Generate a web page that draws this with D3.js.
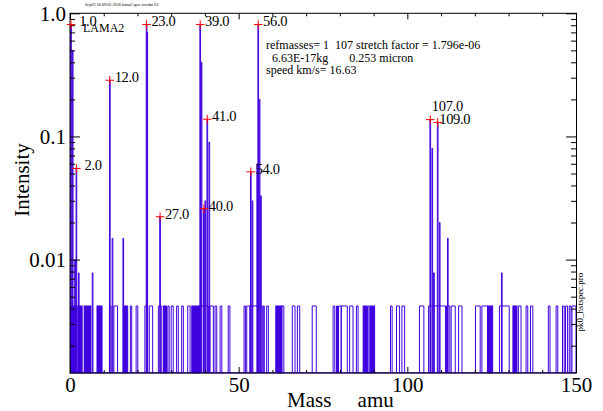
<!DOCTYPE html>
<html>
<head>
<meta charset="utf-8">
<script src="https://cdn.jsdelivr.net/npm/d3@7"></script>
<style>
  body { margin: 0; background: #fff; }
  text { font-family: "Liberation Serif", "Times New Roman", serif; fill: #000; }
</style>
</head>
<body>
<svg id="chart" width="603" height="411"></svg>
<script>
// labelled peaks (red crosses)
var peakMass = [0.3, 1.9, 11.8, 22.7, 26.7, 38.6, 39.7, 40.7, 53.6, 55.8, 106.8, 109.0];
var peakHeight = [0.81, 0.055, 0.286, 0.81, 0.0223, 0.81, 0.0259, 0.138, 0.0516, 0.81, 0.137, 0.13];
var peakLabel = [1, 2, 12, 23, 27, 39, 40, 41, 54, 56, 107, 109];

// unlabelled lines
var spikeMass = [0.8, 1.5, 2.6, 6.7, 12.6, 15.8, 22.9, 39.0, 40.1, 41.3, 54.1, 55.5, 56.2, 56.6, 107.4, 107.9, 109.6, 112.0, 128.0];
var spikeHeight = [0.5, 0.01, 0.0078, 0.0078, 0.0149, 0.0149, 0.7, 0.4, 0.03, 0.09, 0.03, 0.06, 0.2, 0.033, 0.08, 0.0078, 0.02, 0.0149, 0.0078];

// single-count noise level and where the trace sits on it
var noiseLevel = 0.0042;
var noiseBlocks = [[0, 1.8], [2.3, 3.6], [4.2, 6.2], [8.0, 9.5], [15.8, 17.1], [27.7, 28.6], [36.1, 38.5],
  [61.0, 62.8], [86.9, 87.9], [88.9, 90.3], [123.8, 125.3], [131.3, 132.5]];
var noiseSpans = [[11.7, 12.2], [13.0, 14.1], [17.9, 18.3], [19.6, 20.1], [22.2, 23.0], [23.5, 24.5], [26.2, 27.2],
  [29.0, 29.4], [30.0, 30.6], [31.6, 32.1], [33.1, 33.6], [34.9, 35.6], [38.5, 41.0], [41.5, 42.5], [43.0, 43.5],
  [44.5, 45.0], [46.9, 47.4], [51.6, 52.0], [52.4, 53.3], [53.6, 57.0], [57.3, 57.6], [58.3, 58.8], [62.8, 63.4],
  [65.9, 66.7], [67.4, 68.1], [71.8, 73.0], [78.0, 78.5], [79.0, 79.3], [79.6, 80.4], [80.4, 82.2], [82.9, 83.9],
  [84.9, 85.4], [88.2, 88.6], [95.0, 95.5], [96.8, 97.7], [98.4, 99.2], [103.6, 104.9], [106.3, 111.3],
  [111.6, 112.6], [113.0, 114.2], [115.2, 116.2], [120.2, 121.6], [122.1, 123.8], [127.3, 130.2], [132.9, 133.7],
  [135.2, 135.7], [136.5, 137.2], [141.8, 142.3], [144.1, 144.6], [146.0, 146.5], [146.9, 147.5], [148.0, 148.5],
  [148.8, 150]];

var xMajor = [0, 50, 100, 150];
var yMajor = [0.01, 0.1, 1];

var infoLines = ["refmasses= 1  107 stretch factor = 1.796e-06",
  "  6.63E-17kg       0.253 micron",
  "speed km/s= 16.63"];

var margin = { top: 13.3, right: 27, bottom: 38, left: 70 },
    width = 603 - margin.left - margin.right,
    height = 411 - margin.top - margin.bottom;

var blue = "#3f00e0";

var x = d3.scaleLinear().domain([0, 150]).range([0, width]);
var y = d3.scaleLog().domain([0.0012, 1]).range([height, 0]).clamp(true);

var svg = d3.select("#chart");
var chart = svg.append("g")
    .attr("transform", "translate(" + margin.left + "," + margin.top + ")");

chart.append("clipPath").attr("id", "clip")
  .append("rect").attr("x", 0).attr("y", 0).attr("width", width + 0.5).attr("height", height + 0.5);

var plot = chart.append("g").attr("clip-path", "url(#clip)");

var yMinor = [];
[0.001, 0.01, 0.1].forEach(function(d) {
    for (var k = 2; k < 10; k++) if (d * k > 0.0012) yMinor.push(d * k);
});
var xMinor = d3.range(0, 151, 10).filter(function(d) { return d % 50 != 0; });

function axisStyle(g) {
    g.select(".domain").remove();
    g.selectAll("line").attr("stroke", "#000");
    g.selectAll("text").style("font-size", "21px").attr("fill", "#000");
}

chart.append("g").attr("transform", "translate(0," + height + ")")
    .call(d3.axisBottom(x).tickValues(xMajor).tickSize(-6).tickFormat(d3.format("d")))
    .call(axisStyle)
    .call(function(g) { g.selectAll("text").attr("y", 19).attr("dy", null); });
chart.append("g").attr("transform", "translate(0," + height + ")")
    .call(d3.axisBottom(x).tickValues(xMinor).tickSize(-3).tickFormat(""))
    .call(axisStyle);
chart.append("g")
    .call(d3.axisTop(x).tickValues(xMajor).tickSize(-6).tickFormat(""))
    .call(axisStyle);
chart.append("g")
    .call(d3.axisTop(x).tickValues(xMinor).tickSize(-3).tickFormat(""))
    .call(axisStyle);

chart.append("g")
    .call(d3.axisLeft(y).tickValues(yMajor).tickSize(-10).tickPadding(4)
        .tickFormat(function(d) { return d == 1 ? "1.0" : d == 0.1 ? "0.1" : "0.01"; }))
    .call(axisStyle)
    .call(function(g) { g.selectAll("text").attr("x", -4).attr("dy", "0.34em"); });
chart.append("g")
    .call(d3.axisLeft(y).tickValues(yMinor).tickSize(-5).tickFormat(""))
    .call(axisStyle);
chart.append("g").attr("transform", "translate(" + width + ",0)")
    .call(d3.axisRight(y).tickValues(yMajor).tickSize(-10).tickFormat(""))
    .call(axisStyle);
chart.append("g").attr("transform", "translate(" + width + ",0)")
    .call(d3.axisRight(y).tickValues(yMinor).tickSize(-5).tickFormat(""))
    .call(axisStyle);

chart.append("rect")
    .attr("x", 0).attr("y", 0)
    .attr("width", width + 0.5).attr("height", height)
    .attr("fill", "none").attr("stroke", "#000");

// the trace
var y0 = y(0.0012);
function pulse(a, b, h) {
    return "M" + x(a) + "," + y0 + "V" + y(h) + "H" + x(b) + "V" + y0;
}

plot.append("line")
    .attr("x1", 0).attr("x2", width).attr("y1", y0).attr("y2", y0)
    .attr("stroke", blue).attr("stroke-width", 1.5);

plot.selectAll(".block")
    .data(noiseBlocks)
    .enter().append("rect")
    .attr("x", function(d) { return x(d[0]); })
    .attr("y", y(noiseLevel))
    .attr("width", function(d) { return x(d[1]) - x(d[0]); })
    .attr("height", y0 - y(noiseLevel))
    .attr("fill", blue).attr("stroke", blue).attr("stroke-width", 1);

plot.selectAll(".span")
    .data(noiseSpans)
    .enter().append("path")
    .attr("d", function(d) { return pulse(d[0], d[1], noiseLevel); })
    .attr("fill", "none").attr("stroke", blue).attr("stroke-width", 1);

plot.selectAll(".spike")
    .data(spikeMass)
    .enter().append("path")
    .attr("d", function(d, i) { return pulse(d - 0.1, d + 0.1, spikeHeight[i]); })
    .attr("fill", "none").attr("stroke", blue).attr("stroke-width", 1);

plot.selectAll(".peak")
    .data(peakMass)
    .enter().append("path")
    .attr("d", function(d, i) { return pulse(d - 0.1, d + 0.1, peakHeight[i]); })
    .attr("fill", "none").attr("stroke", blue).attr("stroke-width", 1);

// red crosses and labels
var marks = chart.selectAll(".mark")
    .data(peakMass)
    .enter().append("g")
    .attr("transform", function(d, i) { return "translate(" + x(d) + "," + y(peakHeight[i]) + ")"; });

marks.append("path")
    .attr("d", "M-4.3,0H4.3M0,-4.3V4.3")
    .attr("stroke", "#ff0000").attr("stroke-width", 1).attr("fill", "none");

var fmt = d3.format("5.1f");
marks.append("text")
    .attr("x", 1.5)
    .attr("y", function(d, i) {
        var next = peakMass[i + 1];
        return (next && next - d < 3 && Math.abs(peakHeight[i + 1] - peakHeight[i]) < 0.05) ? -9 : 1.8;
    })
    .style("font-size", "14.5px")
    .style("letter-spacing", "-0.3px")
    .style("white-space", "pre")
    .text(function(d, i) { return fmt(peakLabel[i]); });

// annotations
chart.append("text")
    .attr("x", 13).attr("y", 19)
    .style("font-size", "12px")
    .text("LAMA2");

chart.append("text")
    .attr("x", 15).attr("y", -7)
    .style("font-size", "4.2px")
    .text("Sep03 16:09:03 2016 lama2 spec rawdat 03");

chart.selectAll(".info")
    .data(infoLines)
    .enter().append("text")
    .attr("x", 196)
    .attr("y", function(d, i) { return 36.2 + i * 12.5; })
    .style("font-size", "12px")
    .style("white-space", "pre")
    .text(function(d) { return d; });

svg.append("text")
    .attr("x", 287).attr("y", 406.5)
    .style("font-size", "21px")
    .style("white-space", "pre")
    .text("Mass     amu");

svg.append("text")
    .attr("transform", "translate(29,180) rotate(-90)")
    .attr("text-anchor", "middle")
    .style("font-size", "21px")
    .text("Intensity");

svg.append("text")
    .attr("transform", "translate(583,302) rotate(-90)")
    .attr("text-anchor", "middle")
    .style("font-size", "9px")
    .text("pk0_hstspec.pro");
</script>
</body>
</html>
